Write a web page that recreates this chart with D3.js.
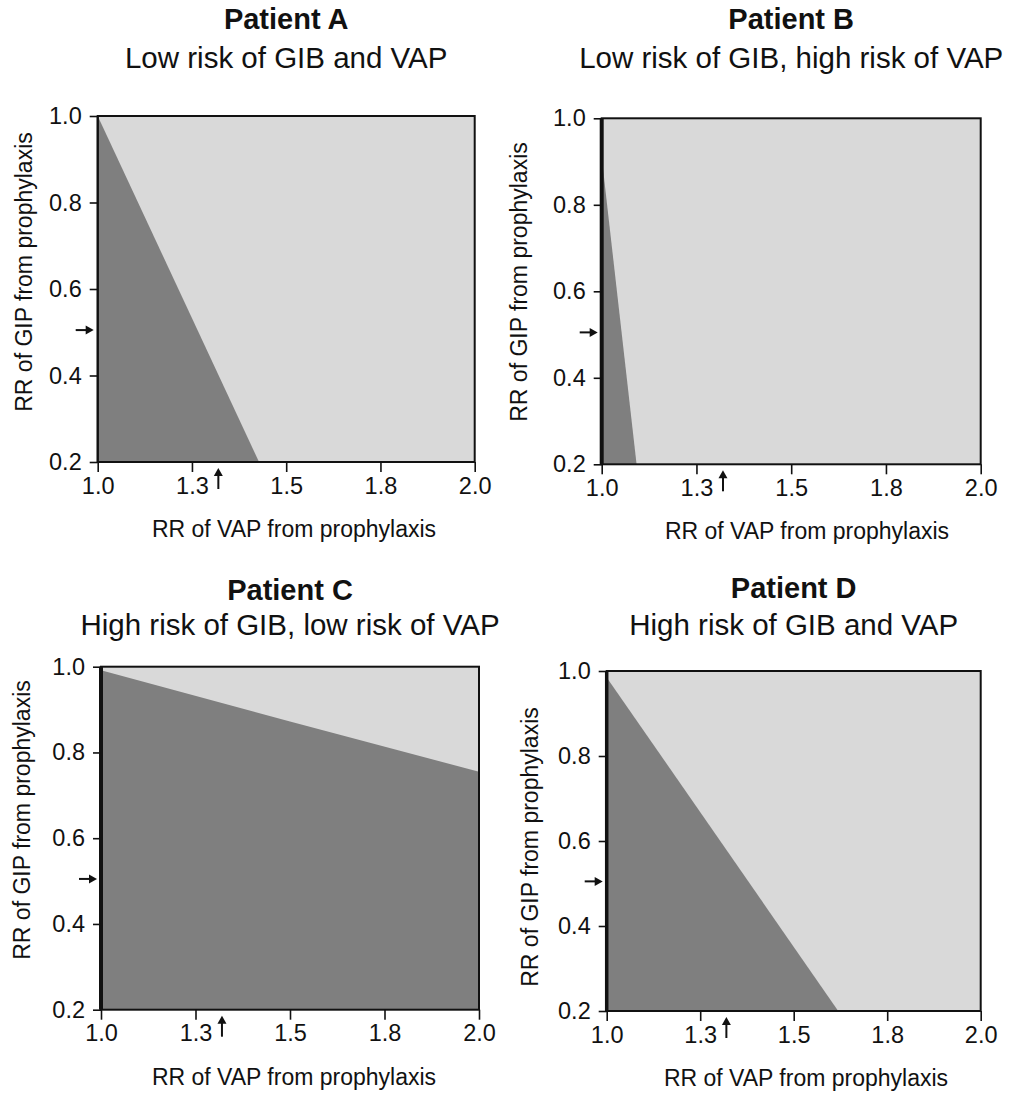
<!DOCTYPE html>
<html>
<head>
<meta charset="utf-8">
<script src="https://cdn.jsdelivr.net/npm/d3@7"></script>
<style>
  body { margin: 0; background: #fff; }
  svg text { font-family: "Liberation Sans", Arial, Helvetica, sans-serif; fill: #111; }
  .tick line { stroke: #111; stroke-width: 1.6; }
  .tick text { font-size: 23.5px; }
</style>
</head>
<body>
<svg id="chart" width="1012" height="1101"></svg>
<script>
// panel labels
var titles = ["Patient A", "Patient B", "Patient C", "Patient D"];
var subtitles = ["Low risk of GIB and VAP",
                 "Low risk of GIB, high risk of VAP",
                 "High risk of GIB, low risk of VAP",
                 "High risk of GIB and VAP"];

// decision boundary [RR of VAP, RR of GIP] — prophylaxis preferred below it
var boundaryA = [[1.0, 1.0], [1.428, 0.2]];
var boundaryB = [[1.0, 0.91], [1.092, 0.2]];
var boundaryC = [[1.0, 0.992], [1.5, 0.872], [2.0, 0.755]];
var boundaryD = [[1.0, 0.985], [1.619, 0.2]];

// baseline estimates marked with arrows
var baseVAP = 1.32;
var baseGIP = 0.505;

// ticks
var xTickValues = [1.0, 1.25, 1.5, 1.75, 2.0];
var xTickLabels = ["1.0", "1.3", "1.5", "1.8", "2.0"];
var yTickValues = [0.2, 0.4, 0.6, 0.8, 1.0];

var xDomain = [1.0, 2.0], yDomain = [0.2, 1.0];
var xTitle = "RR of VAP from prophylaxis";
var yTitle = "RR of GIP from prophylaxis";

var darkColor = "#7f7f7f", lightColor = "#d9d9d9";

// where each panel sits on the page
var layout = [
    {left: 97.7, top: 116, w: 377, h: 346, titleY: 29, subY: 68, yTitleX: 31.5, yTitleY: 272, xTitleX: 294, leftW: 2},
    {left: 601.7, top: 118.3, w: 379, h: 346, titleY: 29, subY: 68, yTitleX: 527, yTitleY: 282, xTitleX: 807, leftW: 4},
    {left: 101, top: 666.7, w: 378, h: 343, titleY: 600, subY: 635, yTitleX: 30, yTitleY: 820, xTitleX: 294, leftW: 4},
    {left: 606.7, top: 671, w: 374, h: 340, titleY: 598, subY: 635, yTitleX: 538, yTitleY: 847, xTitleX: 806, leftW: 3.5}
];
var boundaries = [boundaryA, boundaryB, boundaryC, boundaryD];

var svg = d3.select("#chart");

layout.forEach(function(L, i) {
    var x = d3.scaleLinear().domain(xDomain).range([0, L.w]);
    var y = d3.scaleLinear().domain(yDomain).range([L.h, 0]);
    var centre = L.left + L.w / 2;

    // titles
    svg.append("text")
        .attr("x", centre).attr("y", L.titleY)
        .attr("text-anchor", "middle")
        .style("font-size", "29px").style("font-weight", "bold")
        .text(titles[i]);
    svg.append("text")
        .attr("x", centre).attr("y", L.subY)
        .attr("text-anchor", "middle")
        .style("font-size", "29.5px")
        .text(subtitles[i]);

    var g = svg.append("g").attr("transform", "translate(" + L.left + "," + L.top + ")");

    // background = no prophylaxis region
    g.append("rect")
        .attr("width", L.w).attr("height", L.h)
        .style("fill", lightColor);

    // prophylaxis region
    var area = d3.area()
        .x(function(d) { return x(d[0]); })
        .y0(y(yDomain[0]))
        .y1(function(d) { return y(d[1]); });
    g.append("path")
        .datum(boundaries[i])
        .attr("d", area)
        .style("fill", darkColor);

    // frame
    g.append("rect")
        .attr("width", L.w).attr("height", L.h)
        .style("fill", "none").style("stroke", "#111").style("stroke-width", 2);
    g.append("line")
        .attr("x1", 0).attr("x2", 0).attr("y1", 0).attr("y2", L.h)
        .style("stroke", "#111").style("stroke-width", L.leftW);

    // axes
    var xAxis = d3.axisBottom(x)
        .tickValues(xTickValues)
        .tickFormat(function(d, k) { return xTickLabels[k]; })
        .tickSize(10).tickPadding(5);
    var gx = g.append("g")
        .attr("transform", "translate(0," + L.h + ")")
        .call(xAxis);
    gx.select(".domain").remove();

    var yAxis = d3.axisLeft(y)
        .tickValues(yTickValues)
        .tickFormat(d3.format(".1f"))
        .tickSize(8).tickPadding(8);
    var gy = g.append("g").call(yAxis);
    gy.select(".domain").remove();
    gx.attr("font-family", null).attr("font-size", null);
    gy.attr("font-family", null).attr("font-size", null);
    g.selectAll(".tick text").attr("fill", "#111");

    // baseline arrows
    var ay = y(baseGIP);
    g.append("line")
        .attr("x1", -22).attr("x2", -9).attr("y1", ay).attr("y2", ay)
        .style("stroke", "#111").style("stroke-width", 2);
    g.append("path")
        .attr("d", "M" + (-4) + "," + ay + "L" + (-12) + "," + (ay - 4.5) + "L" + (-12) + "," + (ay + 4.5) + "Z")
        .style("fill", "#111");
    var ax = x(baseVAP);
    g.append("line")
        .attr("x1", ax).attr("x2", ax).attr("y1", L.h + 12).attr("y2", L.h + 27)
        .style("stroke", "#111").style("stroke-width", 2);
    g.append("path")
        .attr("d", "M" + ax + "," + (L.h + 6) + "L" + (ax - 4.5) + "," + (L.h + 14) + "L" + (ax + 4.5) + "," + (L.h + 14) + "Z")
        .style("fill", "#111");

    // axis titles
    svg.append("text")
        .attr("x", L.xTitleX).attr("y", L.top + L.h + 75)
        .attr("text-anchor", "middle")
        .style("font-size", "23px")
        .text(xTitle);
    svg.append("text")
        .attr("transform", "translate(" + L.yTitleX + "," + L.yTitleY + ") rotate(-90)")
        .attr("text-anchor", "middle")
        .style("font-size", "23px")
        .text(yTitle);
});
</script>
</body>
</html>
